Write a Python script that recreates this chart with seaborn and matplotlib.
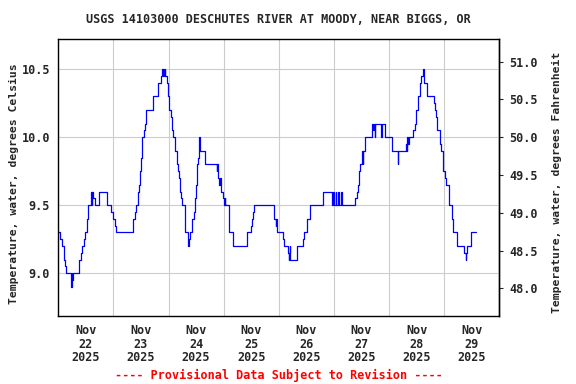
import numpy as np
import pandas as pd
import matplotlib
matplotlib.use("Agg")
import matplotlib.pyplot as plt
import matplotlib.dates as mdates
from matplotlib.ticker import FixedLocator, FormatStrFormatter, NullFormatter
import seaborn as sns

title = "USGS 14103000 DESCHUTES RIVER AT MOODY, NEAR BIGGS, OR"
ylabel_c = "Temperature, water, degrees Celsius"
ylabel_f = "Temperature, water, degrees Fahrenheit"
footer = "---- Provisional Data Subject to Revision ----"
start = "2025-11-22 00:00"
end = "2025-11-30 00:00"

# hours since start at which the reading changes, and the reading from then on
hours = [0.0, 0.9, 1.5, 2.5, 3.0, 3.5, 5.6, 5.85, 6.0, 6.25, 9.2, 10.0, 10.5, 11.2, 11.5,
         12.6, 13.1, 14.3, 14.55, 14.8, 15.1, 15.8, 17.9, 21.2, 23.1, 23.7, 24.8, 25.3,
         32.7, 33.3, 33.8, 34.6, 34.9, 35.3, 35.6, 36.2, 36.6, 37.3, 37.8, 38.2, 41.1,
         43.6, 44.7, 45.2, 45.5, 45.75, 46.0, 46.25, 46.6, 47.2, 47.8, 48.4, 48.9, 49.5,
         50.1, 50.7, 51.0, 51.6, 52.1, 52.4, 53.0, 53.6, 53.9, 55.0, 55.3, 56.6, 56.85,
         57.2, 58.2, 59.1, 59.4, 60.0, 60.3, 60.85, 61.1, 61.4, 61.9, 63.8, 69.0, 69.25,
         69.6, 70.1, 70.4, 70.7, 71.6, 72.2, 72.5, 72.8, 74.2, 74.5, 76.2, 82.0, 82.3,
         84.1, 84.4, 84.9, 85.4, 93.7, 94.8, 95.0, 95.2, 95.4, 98.0, 98.45, 100.0, 100.3,
         100.5, 100.8, 101.1, 104.1, 106.4, 107.0, 108.5, 109.6, 115.4, 119.2, 119.5,
         120.1, 120.7, 120.95, 121.8, 122.4, 123.0, 123.55, 129.4, 130.0, 130.55, 130.85,
         131.4, 132.3, 132.55, 132.8, 133.45, 133.75, 136.65, 137.2, 137.5, 137.8, 138.1,
         140.4, 140.7, 141.0, 142.45, 145.35, 147.7, 148.0, 151.5, 151.75, 152.0, 152.25,
         152.5, 154.6, 155.2, 155.8, 156.4, 157.5, 158.1, 158.7, 159.3, 160.7, 163.4,
         163.9, 164.5, 165.1, 166.0, 166.3, 166.8, 167.4, 167.7, 168.3, 168.9, 170.0,
         170.3, 171.2, 171.8, 173.5, 173.8, 176.7, 177.3, 177.6, 177.9, 179.9, 181.9]
temp_c = [9.3, 9.25, 9.2, 9.1, 9.05, 9.0, 8.9, 9.0, 8.95, 9.0, 9.1, 9.15, 9.2, 9.25, 9.3,
          9.4, 9.5, 9.6, 9.5, 9.6, 9.55, 9.5, 9.6, 9.5, 9.45, 9.4, 9.35, 9.3,
          9.4, 9.45, 9.5, 9.55, 9.6, 9.65, 9.75, 9.85, 10.0, 10.05, 10.1, 10.2, 10.3,
          10.4, 10.45, 10.5, 10.45, 10.5, 10.45, 10.5, 10.45, 10.4, 10.3, 10.2, 10.15, 10.05,
          10.0, 9.95, 9.9, 9.8, 9.75, 9.7, 9.6, 9.55, 9.5, 9.4, 9.3, 9.2, 9.25,
          9.3, 9.4, 9.45, 9.55, 9.65, 9.8, 9.85, 9.95, 10.0, 9.9, 9.8, 9.75, 9.8,
          9.7, 9.65, 9.7, 9.6, 9.55, 9.5, 9.55, 9.5, 9.4, 9.3, 9.2, 9.25, 9.3,
          9.35, 9.4, 9.45, 9.5, 9.4, 9.35, 9.4, 9.35, 9.3, 9.25, 9.2, 9.15, 9.1,
          9.15, 9.2, 9.1, 9.2, 9.25, 9.3, 9.4, 9.5, 9.6, 9.5, 9.6,
          9.5, 9.6, 9.5, 9.6, 9.5, 9.6, 9.5, 9.55, 9.6, 9.65, 9.75,
          9.8, 9.9, 9.8, 9.9, 9.95, 10.0, 10.1, 10.05, 10.1, 10.0, 10.1,
          10.05, 10.0, 10.1, 10.0, 9.9, 9.8, 9.9, 9.95, 9.9, 10.0, 9.95,
          10.0, 10.05, 10.1, 10.2, 10.3, 10.4, 10.45, 10.5, 10.4, 10.3, 10.25,
          10.2, 10.15, 10.05, 10.0, 9.95, 9.9, 9.8, 9.75, 9.7, 9.65, 9.6,
          9.5, 9.4, 9.3, 9.25, 9.2, 9.15, 9.1, 9.15, 9.2, 9.3, 9.3]

c_ticks = [9.0, 9.5, 10.0, 10.5]
f_ticks = [48.0, 48.5, 49.0, 49.5, 50.0, 50.5, 51.0]
c_limits = (8.686, 10.72)

sns.set_style("white")
plt.rcParams["font.family"] = ["DejaVu Sans Mono"]
plt.rcParams["font.weight"] = "bold"
FS = 8.5
LFS = 8.2

df = pd.DataFrame({
    "time": pd.Timestamp(start) + pd.to_timedelta(hours, unit="h"),
    "temp": temp_c,
})

fig = plt.figure(figsize=(5.76, 3.84), dpi=100)
ax = fig.add_axes([0.1012, 0.1771, 0.7656, 0.7206])

sns.lineplot(data=df, x="time", y="temp", ax=ax, color="#0000FF", linewidth=0.9,
             drawstyle="steps-post", estimator=None)

ax.set_xlim(pd.Timestamp(start), pd.Timestamp(end))
ax.set_ylim(*c_limits)
ax.set_xlabel("")
ax.set_ylabel("")

ax.yaxis.set_major_locator(FixedLocator(c_ticks))
ax.yaxis.set_major_formatter(FormatStrFormatter("%.1f"))
ax.tick_params(axis="y", length=0, pad=6, labelsize=FS)

ax.xaxis.set_major_locator(mdates.DayLocator())
ax.xaxis.set_major_formatter(NullFormatter())
ax.xaxis.set_minor_locator(mdates.HourLocator(byhour=[12]))
ax.xaxis.set_minor_formatter(mdates.DateFormatter("%b\n%d\n%Y"))
ax.tick_params(axis="x", which="both", length=0, pad=6, labelsize=FS)
for lbl in ax.get_xticklabels(minor=True):
    lbl.set_linespacing(1.05)

ax.grid(True, which="major", color="#CCCCCC", linewidth=0.8)
ax.set_axisbelow(True)
for sp in ax.spines.values():
    sp.set_color("black")
    sp.set_linewidth(1.0)

sec = ax.secondary_yaxis("right", functions=(lambda c: c * 9 / 5 + 32,
                                             lambda f: (f - 32) * 5 / 9))
sec.yaxis.set_major_locator(FixedLocator(f_ticks))
sec.yaxis.set_major_formatter(FormatStrFormatter("%.1f"))
sec.tick_params(axis="y", length=3, width=0.8, pad=4, labelsize=FS)
sec.spines["right"].set_linewidth(1.0)

fig.text(0.025, 0.522, ylabel_c, rotation=90, ha="center", va="center",
         fontsize=LFS, fontweight="bold")
fig.text(0.967, 0.524, ylabel_f, rotation=90, ha="center", va="center",
         fontsize=LFS, fontweight="bold")
fig.text(0.4840, 0.950, title, ha="center", va="center", fontsize=FS, fontweight="bold")
fig.text(0.4840, 0.023, footer, ha="center", va="center", fontsize=FS,
         fontweight="bold", color="#FF0000")

fig.savefig("out.png", dpi=100)
